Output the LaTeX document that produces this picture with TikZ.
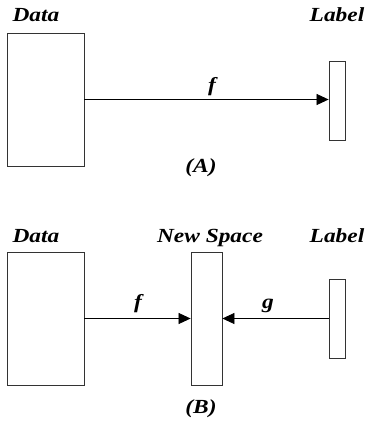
\documentclass[tikz,border=0pt]{standalone}
\usepackage{fontspec}
\setmainfont{Liberation Serif}
\usetikzlibrary{arrows.meta}
\def\wtext#1{\scalebox{1.17}[1]{#1}}
\tikzset{
	box/.style={draw=black!80,line width=0.8pt,inner sep=0pt},
	txt/.style={font=\fontsize{20}{22}\selectfont\bfseries\itshape,inner sep=0pt,anchor=base},
	map/.style={line width=0.7pt,-{Triangle[length=12pt,width=11pt]}},
	}
\begin{document}
\begin{tikzpicture}[x=1pt,y=-1pt]
\useasboundingbox (0,0) rectangle (370,436);
%SCATOLE (A)
\node[box,minimum width=77pt,minimum height=133pt] (dataA) at (45.5,99.5) {};
\node[box,minimum width=16pt,minimum height=79pt] (labelA) at (337,100.5) {};
%SCATOLE (B)
\node[box,minimum width=77pt,minimum height=133pt] (dataB) at (45.5,318.5) {};
\node[box,minimum width=31pt,minimum height=133pt] (space) at (206.5,318.5) {};
\node[box,minimum width=16pt,minimum height=79pt] (labelB) at (337,318.5) {};
%FRECCE
\draw[map] (dataA) -- (labelA.west |- dataA);
\draw[map] (dataB) -- (space.west |- dataB);
\draw[map] (labelB) -- (space.east |- labelB);
%TESTI
\node[txt] (tdataA) at (36,22) {\wtext{Data}};
\node[txt] (tlabelA) at (337,22) {\wtext{Label}};
\node[txt] (fA) at (212,92) {\wtext{f}};
\node[txt] (capA) at (201,172) {\wtext{(A)}};
\node[txt] (tdataB) at (36,242) {\wtext{Data}};
\node[txt] (tspace) at (210,242) {\wtext{New Space}};
\node[txt] (tlabelB) at (337,242) {\wtext{Label}};
\node[txt] (fB) at (138,308) {\wtext{f}};
\node[txt] (gB) at (268,308) {\wtext{g}};
\node[txt] (capB) at (201,413) {\wtext{(B)}};
\end{tikzpicture}
\end{document}
